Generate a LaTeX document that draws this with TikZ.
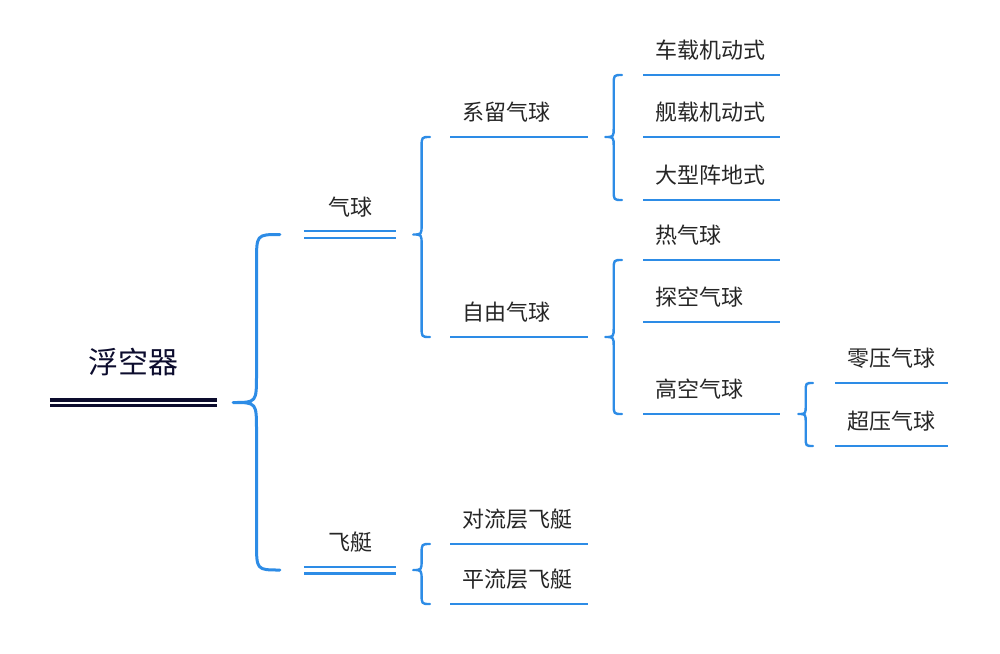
\documentclass[tikz,border=0pt]{standalone}
\usepackage{fontspec}
\newfontfamily\cjk{Noto Sans CJK SC}
\usetikzlibrary{calc}
\definecolor{mapblue}{RGB}{45,140,230}
\definecolor{mapnavy}{RGB}{12,12,45}
\definecolor{ink}{HTML}{262626}
\tikzset{
  item/.style={anchor=south west, font=\cjk\fontsize{22pt}{26pt}\selectfont, text=ink,
    inner xsep=12pt, inner ysep=0pt, text depth=16pt, align=left},
  lvtwo/.style={item, text width=114pt},
  lvthree/.style={item, text width=113pt},
  lvfour/.style={item, text width=89pt},
  lvone/.style={anchor=south, font=\cjk\fontsize{22pt}{26pt}\selectfont, text=ink,
    minimum width=92pt, inner xsep=0pt, inner ysep=0pt, text depth=19pt},
  uline/.style={draw=mapblue, line width=2.2pt},
  dline/.style={draw=mapblue, line width=2.4pt, double=white, double distance=4.2pt},
  rootline/.style={draw=mapnavy, line width=3.4pt, double=white, double distance=2pt},
  brace/.style={draw=mapblue, line width=2.4pt, line cap=round, line join=round},
}
% curly bracket from a parent to its first and last child
\newcommand{\curlyjoin}[6][]{%
  \draw[brace, #1] let \p1=(#2.south east), \p2=(#3.south west), \p3=(#4.south west),
    \n1={\x1+#5}, \n2={\x2-#6}, \n3={(\n1+\n2)/2}, \n4={1.2*(\n2-\n3)} in
    (\n2,\y2) .. controls (\n3,\y2) .. (\n3,\y2-\n4) -- (\n3,\y1+\n4)
    .. controls (\n3,\y1) .. (\n1,\y1) .. controls (\n3,\y1) .. (\n3,\y1-\n4)
    -- (\n3,\y3+\n4) .. controls (\n3,\y3) .. (\n2,\y3);}
\begin{document}
\begin{tikzpicture}[x=1pt, y=1pt]
  \useasboundingbox (0,0) rectangle (1000,-653);
  % root and first level
  \node (root) [anchor=south, font=\cjk\fontsize{30pt}{34pt}\selectfont, text=mapnavy,
    minimum width=167pt, inner xsep=0pt, inner ysep=0pt, text depth=29pt] at (133.5,-402.5) {浮空器};
  \node (qq) [lvone] at (350,-234.5) {气球};
  \node (ft) [lvone] at (350,-570) {飞艇};
  % second level
  \node (xl) [lvtwo] at (450,-137) {系留气球};
  \node (zy) [lvtwo] at (450,-337) {自由气球};
  \node (dl) [lvtwo] at (450,-544) {对流层飞艇};
  \node (pl) [lvtwo] at (450,-604) {平流层飞艇};
  % third level
  \node (cz) [lvthree] at (643,-75) {车载机动式};
  \node (jz) [lvthree] at (643,-137) {舰载机动式};
  \node (dx) [lvthree] at (643,-200) {大型阵地式};
  \node (rq) [lvthree] at (643,-260) {热气球};
  \node (tk) [lvthree] at (643,-322) {探空气球};
  \node (gk) [lvthree] at (643,-414) {高空气球};
  % fourth level
  \node (lq) [lvfour] at (835,-383) {零压气球};
  \node (cy) [lvfour] at (835,-446) {超压气球};

  \draw[rootline] (root.south west) -- (root.south east);
  \foreach \n in {qq,ft}
    \draw[dline] (\n.south west) -- (\n.south east);
  \foreach \n in {xl,zy,dl,pl,cz,jz,dx,rq,tk,gk,lq,cy}
    \draw[uline] (\n.south west) -- (\n.south east);

  \curlyjoin[line width=3pt]{root}{qq}{ft}{16}{24}
  \curlyjoin{qq}{xl}{zy}{17}{20}
  \curlyjoin{ft}{dl}{pl}{17}{20}
  \curlyjoin{xl}{cz}{dx}{17}{21}
  \curlyjoin{zy}{rq}{gk}{17}{21}
  \curlyjoin{gk}{lq}{cy}{18}{22}
\end{tikzpicture}
\end{document}
